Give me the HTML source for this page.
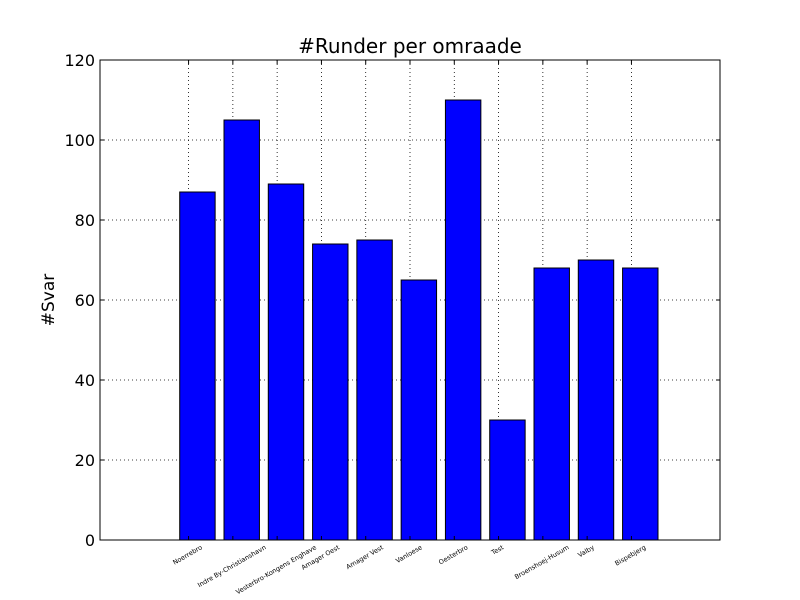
<!DOCTYPE html>
<html><head><meta charset="utf-8"><style>body{margin:0;background:#fff}svg{display:block;font-family:"DejaVu Sans","Liberation Sans",sans-serif}</style></head>
<body>
<svg id="chart" width="800" height="600" viewBox="0 0 800 600">
<rect width="800" height="600" fill="#fff"/>
<text x="410" y="53" font-size="20" text-anchor="middle">#Runder per omraade</text>
<text transform="translate(54,300) rotate(-90)" font-size="17" text-anchor="middle">#Svar</text>
<g id="grid"></g><g id="bars"></g><g id="ticks"></g>
<rect x="100" y="60" width="620" height="480" fill="none" stroke="#000" stroke-width="1"/>
</svg>
<script>
const categories=["Noerrebro","Indre By-Christianshavn","Vesterbro-Kongens Enghave","Amager Oest","Amager Vest","Vanloese","Oesterbro","Test","Broenshoej-Husum","Valby","Bispebjerg"];
const values=[87,105,89,74,75,65,110,30,68,70,68];
const yTicks=[0,20,40,60,80,100,120];
const NS="http://www.w3.org/2000/svg";
const X0=100,X1=720,Y0=540,Y1=60;
const xs=v=>X0+(v+2)/14*(X1-X0);
const ys=v=>Y0-v/120*(Y0-Y1);
const grid=document.getElementById('grid'),bars=document.getElementById('bars'),ticks=document.getElementById('ticks');
function mk(tag,attrs,parent){const e=document.createElementNS(NS,tag);for(const k in attrs)e.setAttribute(k,attrs[k]);parent.appendChild(e);return e;}
yTicks.forEach(t=>{const y=ys(t);
 const g=mk('line',{x1:X0,x2:X1,y1:y,y2:y,stroke:'#000','stroke-dasharray':'1,3','stroke-width':0.8},grid);
 
 
 mk('line',{x1:X0,x2:X0+4,y1:y,y2:y,stroke:'#000'},ticks);
 mk('line',{x1:X1,x2:X1-4,y1:y,y2:y,stroke:'#000'},ticks);
 const l=mk('text',{x:X0-5,y:y+6,'font-size':16,'text-anchor':'end'},ticks);l.textContent=t;
 
 
});
categories.forEach((c,i)=>{const x=xs(i);
 const g=mk('line',{x1:x,x2:x,y1:Y1,y2:Y0,stroke:'#000','stroke-dasharray':'1,3','stroke-width':0.8},grid);
 
 
 const b=mk('rect',{x:xs(i-0.2),y:ys(values[i]),width:xs(0.6)-xs(-0.2),height:ys(0)-ys(values[i]),fill:'#0000ff',stroke:'#000','stroke-width':1},bars);
 
 
 mk('line',{x1:x,x2:x,y1:Y0,y2:Y0-4,stroke:'#000'},ticks);
 mk('line',{x1:x,x2:x,y1:Y1,y2:Y1+4,stroke:'#000'},ticks);
 const t=mk('text',{'font-size':6.5,'text-anchor':'middle'},ticks);t.textContent=c;
 
 
 const L=t.getComputedTextLength();
 const cy=544+(L*0.5+6*0.87)/2;
 t.setAttribute('transform','translate('+x+','+(cy+2)+') rotate(-30)');
});
</script>
</body></html>
